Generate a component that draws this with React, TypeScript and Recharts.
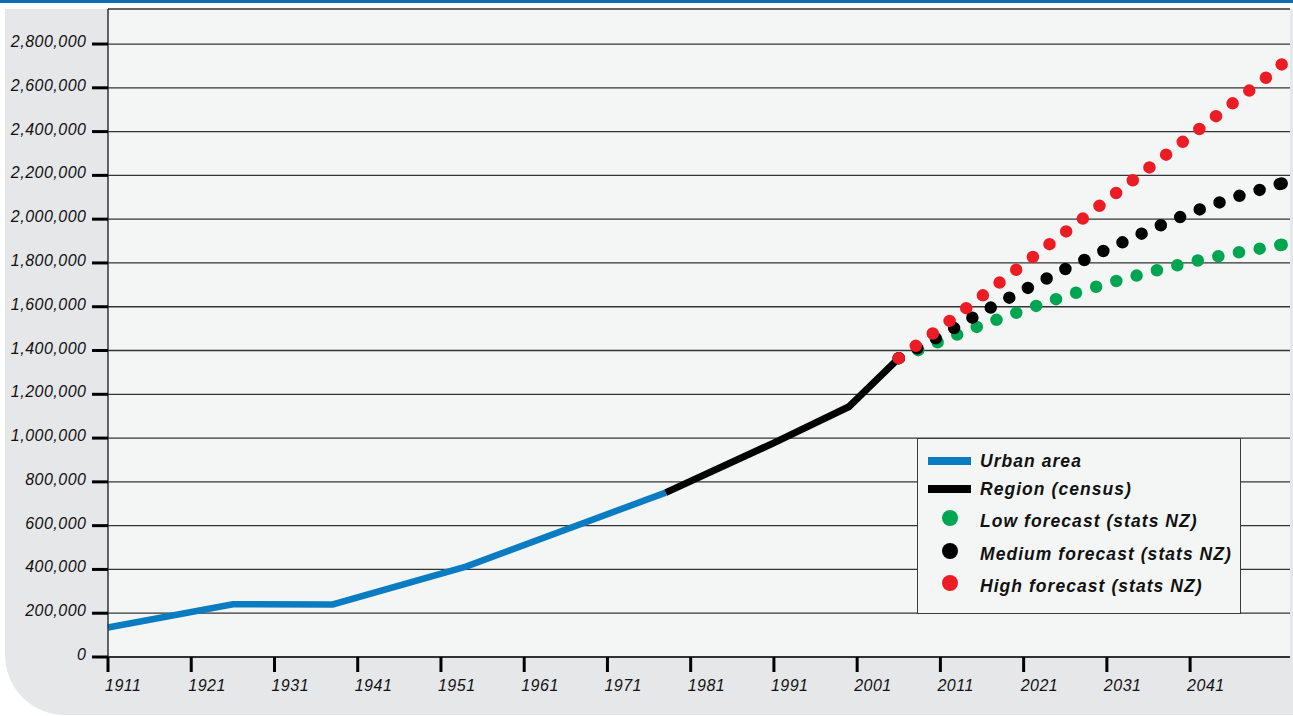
import { ComposedChart, Line, XAxis, YAxis, CartesianGrid, Legend } from 'recharts';

// Urban area (blue) and regional census (black) history
const urbanYears = [1911, 1926, 1938, 1954, 1978];
const urbanPopulation = [135000, 241000, 240000, 413000, 751000];

const regionYears = [1978, 1991, 2000, 2006];
const regionPopulation = [751000, 978000, 1143000, 1365000];

// Stats NZ projections
const forecastYears = [2006, 2011, 2016, 2021, 2026, 2031, 2036, 2041, 2046, 2051, 2052];
const lowForecast = [1365000, 1443000, 1517000, 1584000, 1649000, 1706000, 1757000, 1804000, 1843000, 1876000, 1883000];
const mediumForecast = [1365000, 1467000, 1575000, 1676000, 1772000, 1862000, 1948000, 2029000, 2096000, 2152000, 2163000];
const highForecast = [1365000, 1503000, 1649000, 1795000, 1941000, 2087000, 2233000, 2379000, 2526000, 2672000, 2707000];

const yearTicks = [1911, 1921, 1931, 1941, 1951, 1961, 1971, 1981, 1991, 2001, 2011, 2021, 2031, 2041];
const populationTicks = [0, 200000, 400000, 600000, 800000, 1000000, 1200000, 1400000, 1600000, 1800000, 2000000, 2200000, 2400000, 2600000, 2800000];

const seriesNames = [
  'Urban area',
  'Region (census)',
  'Low forecast (stats NZ)',
  'Medium forecast (stats NZ)',
  'High forecast (stats NZ)',
];

const toPoints = (years: number[], values: number[]) => years.map((year, i) => ({ year, value: values[i] }));

const BLUE = '#0a7cc2';
const GREEN = '#00a551';
const RED = '#ec1c24';
const FONT = '"Liberation Sans", Arial, Helvetica, sans-serif';

function YearTick({ x, y, payload }: any) {
  return (
    <text x={x - 3} y={y + 19} textAnchor="start" fontFamily={FONT} fontStyle="italic" fontSize={16} letterSpacing={0.5} fill="#111">
      {payload.value}
    </text>
  );
}

function PopulationTick({ x, y, payload }: any) {
  return (
    <text x={x + 0.5} y={y + 3} textAnchor="end" fontFamily={FONT} fontStyle="italic" fontSize={16} letterSpacing={0.5} fill="#111">
      {Number(payload.value).toLocaleString('en-US')}
    </text>
  );
}

// dotted forecast lines get a closing dot on their last point
const endDot = (color: string) => (p: any) =>
  p.index === forecastYears.length - 1
    ? <circle key={p.key} cx={p.cx} cy={p.cy} r={6.25} fill={color} />
    : <g key={p.key} />;

const rowCentres = [22, 50, 81.5, 114.5, 146.5];

function ChartLegend({ payload }: any) {
  const items = [...(payload ?? [])].sort((a, b) => seriesNames.indexOf(a.value) - seriesNames.indexOf(b.value));
  return (
    <div style={{ position: 'relative', width: 324, height: 176, boxSizing: 'border-box', border: '1.3px solid #3a3a3a', background: '#f4f6f6' }}>
      {items.map((entry: any, i: number) => {
        const c = rowCentres[i];
        return (
          <div key={entry.value}>
            {entry.type === 'circle' ? (
              <div style={{ position: 'absolute', left: 24, top: c - 10.5, width: 16, height: 16, borderRadius: '50%', background: entry.color }} />
            ) : (
              <div style={{ position: 'absolute', left: 10, top: c - 4, width: 43, height: 8, background: entry.color }} />
            )}
            <span style={{ position: 'absolute', left: 62, top: c - 10, lineHeight: '20px', fontSize: 17.5, fontStyle: 'italic', fontWeight: 700, letterSpacing: 1.05, color: '#111', whiteSpace: 'nowrap', fontFamily: FONT }}>
              {entry.value}
            </span>
          </div>
        );
      })}
    </div>
  );
}

export default function App() {
  return (
    <div style={{ position: 'relative', width: 1293, height: 716, background: '#fff', fontFamily: FONT, overflow: 'hidden' }}>
      <style>{'body { margin: 0; }'}</style>
      <div style={{ position: 'absolute', left: 0, top: 0, width: 1293, height: 2.5, background: '#0e6cb4' }} />
      <div style={{ position: 'absolute', left: 5, top: 9, width: 1288, height: 706, background: '#e6e7e9', borderBottomLeftRadius: 60 }} />
      <div style={{ position: 'absolute', left: 0, top: 0 }}>
        <ComposedChart width={1293} height={716} margin={{ top: 9, right: 3, bottom: 19, left: 8 }}>
          <CartesianGrid vertical={false} fill="#f4f6f6" fillOpacity={1} stroke="#333" strokeWidth={1.3} />
          <XAxis
            type="number"
            dataKey="year"
            domain={[1911, 2053]}
            ticks={yearTicks}
            interval={0}
            height={40}
            tickSize={15}
            tickMargin={0}
            axisLine={{ stroke: '#222', strokeWidth: 1.5 }}
            tickLine={{ stroke: '#000', strokeWidth: 3 }}
            tick={YearTick}
          />
          <YAxis
            type="number"
            domain={[0, 2960000]}
            ticks={populationTicks}
            interval={0}
            width={100}
            tickSize={16}
            tickMargin={6}
            axisLine={{ stroke: '#333', strokeWidth: 1.5 }}
            tickLine={{ stroke: '#000', strokeWidth: 3 }}
            tick={PopulationTick}
          />
          <Legend
            layout="horizontal"
            align="center"
            verticalAlign="middle"
            wrapperStyle={{ left: 917, top: 438, width: 324, height: 176 }}
            content={ChartLegend}
          />
          <Line data={toPoints(urbanYears, urbanPopulation)} dataKey="value" name={seriesNames[0]} legendType="line"
            stroke={BLUE} strokeWidth={6.5} dot={false} activeDot={false} isAnimationActive={false} />
          <Line data={toPoints(regionYears, regionPopulation)} dataKey="value" name={seriesNames[1]} legendType="line"
            stroke="#000" strokeWidth={7} dot={false} activeDot={false} isAnimationActive={false} />
          <Line data={toPoints(forecastYears, lowForecast)} dataKey="value" name={seriesNames[2]} legendType="circle"
            stroke={GREEN} strokeWidth={12.5} strokeLinecap="round" strokeDasharray="0 21" dot={endDot(GREEN)} activeDot={false} isAnimationActive={false} />
          <Line data={toPoints(forecastYears, mediumForecast)} dataKey="value" name={seriesNames[3]} legendType="circle"
            stroke="#000" strokeWidth={12.5} strokeLinecap="round" strokeDasharray="0 21" dot={endDot('#000')} activeDot={false} isAnimationActive={false} />
          <Line data={toPoints(forecastYears, highForecast)} dataKey="value" name={seriesNames[4]} legendType="circle"
            stroke={RED} strokeWidth={12.5} strokeLinecap="round" strokeDasharray="0 21" dot={endDot(RED)} activeDot={false} isAnimationActive={false} />
        </ComposedChart>
      </div>
    </div>
  );
}
